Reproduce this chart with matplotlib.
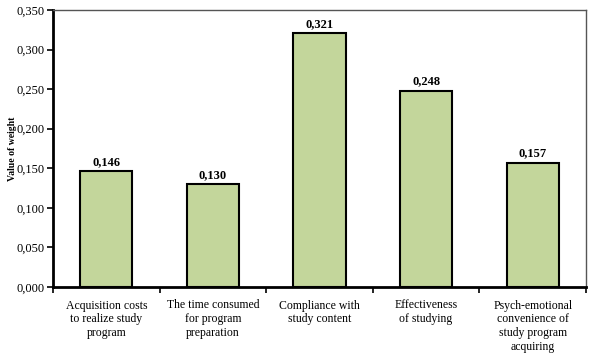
import matplotlib
matplotlib.use("Agg")
import matplotlib.pyplot as plt
from matplotlib.ticker import FuncFormatter, FixedLocator

categories = [
    "Acquisition costs\nto realize study\nprogram",
    "The time consumed\nfor program\npreparation",
    "Compliance with\nstudy content",
    "Effectiveness\nof studying",
    "Psych-emotional\nconvenience of\nstudy program\nacquiring",
]
values = [0.146, 0.130, 0.321, 0.248, 0.157]
yticks = [0.0, 0.05, 0.10, 0.15, 0.20, 0.25, 0.30, 0.35]
ylabel = "Value of weight"

plt.rcParams['font.family'] = ['Liberation Serif', 'DejaVu Serif']

fig = plt.figure(figsize=(5.93, 3.6), dpi=100)
ax = fig.add_axes([53/593, 1-287/360, (586-53)/593, (287-10)/360])

x = list(range(len(values)))
bars = ax.bar(x, values, width=0.49, color="#C3D69B", edgecolor="black", linewidth=1.5, zorder=2)
for xi, v in zip(x, values):
    ax.text(xi, v + 0.004, f"{v:.3f}".replace(".", ","), ha="center", va="bottom",
            fontsize=9, fontweight="bold")

ax.set_xlim(-0.5, len(values) - 0.5)
ax.set_ylim(0, 0.35)
ax.yaxis.set_major_locator(FixedLocator(yticks))
ax.yaxis.set_major_formatter(FuncFormatter(lambda v, p: f"{v:.3f}".replace(".", ",")))
ax.set_xticks(x)
ax.set_xticklabels(categories, fontsize=8.5, linespacing=1.2)
ax.tick_params(axis="x", length=0, pad=9)
ax.set_xticks([i + 0.5 for i in range(-1, len(values))], minor=True)
ax.tick_params(axis="x", which="minor", length=4, width=1.2, direction="out")
ax.tick_params(axis="y", length=4, width=1.2, direction="out", labelsize=9, pad=2)

for s in ["left", "bottom"]:
    ax.spines[s].set_linewidth(2)
    ax.spines[s].set_color("black")
for s in ["top", "right"]:
    ax.spines[s].set_linewidth(1)
    ax.spines[s].set_color("#555555")

ax.set_ylabel(ylabel, fontsize=7, fontweight="bold", labelpad=0)

fig.savefig("out.png", dpi=100)
